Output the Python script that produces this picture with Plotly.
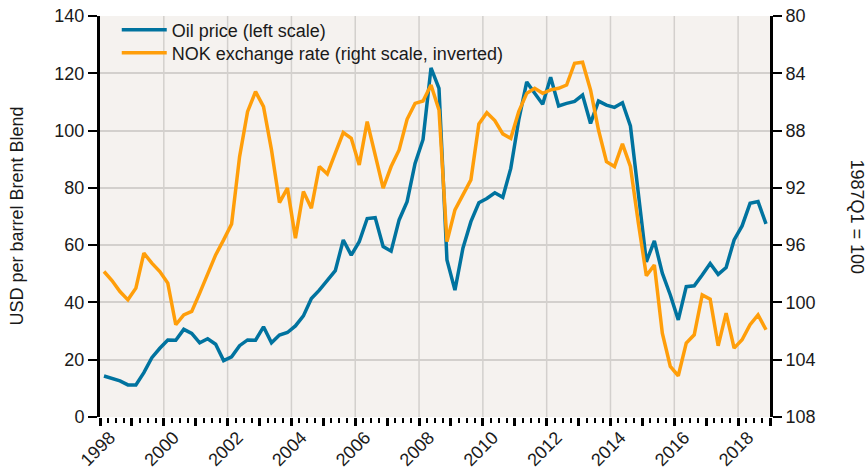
import plotly.graph_objects as go

# Quarterly observations 1998Q1 - 2018Q4
quarters = [f"{y}Q{q}" for y in range(1998, 2019) for q in range(1, 5)]

oil_price = [
    14.3, 13.5, 12.6, 11.2, 11.2, 15.5, 20.7, 24.0,
    26.9, 26.8, 30.6, 29.2, 25.9, 27.3, 25.4, 19.7,
    21.0, 24.9, 26.9, 26.8, 31.5, 25.9, 28.6, 29.5,
    31.8, 35.3, 41.4, 44.3, 47.6, 51.1, 61.8, 56.5,
    61.2, 69.3, 69.6, 59.5, 57.9, 68.8, 75.2, 88.5,
    96.9, 121.9, 114.7, 54.8, 44.3, 58.9, 68.2, 74.8,
    76.3, 78.3, 76.7, 86.8, 103.7, 117.0, 113.0, 109.2,
    118.6, 108.6, 109.5, 110.2, 112.4, 102.5, 110.3, 108.9,
    108.1, 109.7, 101.6, 78.1, 54.2, 61.5, 50.2, 42.6,
    33.9, 45.5, 45.8, 49.6, 53.6, 49.8, 52.2, 61.8,
    66.7, 74.6, 75.2, 67.4,
]

nok_rate = [
    97.84, 98.47, 99.24, 99.82, 99.00, 96.56, 97.26, 97.84,
    98.65, 101.56, 100.87, 100.63, 99.35, 98.00, 96.68, 95.63,
    94.52, 89.82, 86.68, 85.28, 86.33, 89.35, 93.03, 92.02,
    95.51, 92.26, 93.42, 90.51, 91.03, 89.58, 88.14, 88.54,
    90.40, 87.37, 89.70, 92.02, 90.51, 89.35, 87.21, 86.10,
    85.93, 84.82, 86.56, 95.75, 93.54, 92.49, 91.44, 87.54,
    86.75, 87.30, 88.23, 88.54, 86.68, 85.40, 85.05, 85.40,
    85.16, 85.05, 84.82, 83.30, 83.23, 85.16, 87.96, 90.17,
    90.51, 88.93, 90.51, 94.47, 98.14, 97.38, 102.14, 104.47,
    105.12, 102.84, 102.26, 99.47, 99.77, 103.03, 100.75, 103.19,
    102.61, 101.56, 100.87, 101.91,
]

left_ticks = [0, 20, 40, 60, 80, 100, 120, 140]
right_ticks = [80, 84, 88, 92, 96, 100, 104, 108]
year_ticks = list(range(1998, 2020))
label_years = list(range(1998, 2020, 2))

left_title = "USD per barrel Brent Blend"
right_title = "1987Q1 = 100"

# position each quarter at its mid-point on a continuous year axis
xpos = [int(q[:4]) + (int(q[-1]) - 1) * 0.25 + 0.125 for q in quarters]

BLUE = "#00739f"
ORANGE = "#ff9e0a"
FONT = "Liberation Sans, Arial, sans-serif"
FS = 18

W, H = 866, 470
ML, MR, MT, MB = 100, 96, 16, 53
PW = W - ML - MR
PH = H - MT - MB

fig = go.Figure()
fig.add_trace(go.Scatter(
    x=xpos, y=oil_price, mode="lines", name="Oil price (left scale)",
    line=dict(color=BLUE, width=3.5), yaxis="y", legend="legend",
))
fig.add_trace(go.Scatter(
    x=xpos, y=nok_rate, mode="lines",
    name="NOK exchange rate (right scale, inverted)",
    line=dict(color=ORANGE, width=3.5), yaxis="y2", legend="legend2",
))

# vertical grid lines at labelled (even) years
for yr in label_years[1:]:
    fig.add_shape(type="line", xref="x", yref="paper", x0=yr, x1=yr, y0=0, y1=1,
                  line=dict(color="#d3d0cd", width=1.5), layer="below")

fig.add_annotation(text=left_title, textangle=-90, xref="paper", yref="paper",
                   x=(16 - ML) / PW, y=0.5, xanchor="center", yanchor="middle",
                   showarrow=False, font=dict(size=FS, color="#1a1a1a"))
fig.add_annotation(text=right_title, textangle=90, xref="paper", yref="paper",
                   x=(857 - ML) / PW, y=0.5, xanchor="center", yanchor="middle",
                   showarrow=False, font=dict(size=FS, color="#1a1a1a"))

legend_common = dict(xanchor="left", yanchor="middle", bgcolor="rgba(0,0,0,0)",
                     font=dict(size=FS, color="#1a1a1a"), itemwidth=45)

fig.update_layout(
    width=W, height=H,
    margin=dict(l=ML, r=MR, t=MT, b=MB, autoexpand=False),
    paper_bgcolor="white",
    plot_bgcolor="#f5f2ef",
    font=dict(family=FONT, size=FS, color="#1a1a1a"),
    showlegend=True,
    legend=dict(x=0.025, y=1 - (30 - MT) / PH, **legend_common),
    legend2=dict(x=0.025, y=1 - (53 - MT) / PH, **legend_common),
    xaxis=dict(
        range=[1998, 2019], automargin=False,
        tickmode="array", tickvals=year_ticks,
        ticktext=[str(y) if y in label_years else "" for y in year_ticks],
        tickangle=-45, ticks="outside", ticklen=8, tickwidth=3, tickcolor="black",
        ticklabelshift=10, ticklabelstandoff=-6,
        showgrid=False, zeroline=False, showline=False,
        minor=dict(dtick=0.25, tick0=1998, ticks="outside", ticklen=5,
                   tickwidth=2, tickcolor="black", showgrid=False),
        tickfont=dict(size=FS),
    ),
    yaxis=dict(
        range=[0, 140], tickmode="array", tickvals=left_ticks, automargin=False,
        ticks="outside", ticklen=9, tickwidth=2, tickcolor="black",
        showline=True, linecolor="black", linewidth=3,
        showgrid=True, gridcolor="#d3d0cd", gridwidth=1.5, zeroline=False,
        tickfont=dict(size=FS),
    ),
    yaxis2=dict(
        range=[108, 80], overlaying="y", side="right", automargin=False,
        tickmode="array", tickvals=right_ticks,
        ticks="outside", ticklen=9, tickwidth=2, tickcolor="black",
        showline=True, linecolor="black", linewidth=3,
        showgrid=False, zeroline=False,
        tickfont=dict(size=FS),
    ),
)

fig.write_html(
    "out.html",
    config={"displayModeBar": False},
    post_script="document.body.style.margin='0';document.body.style.overflow='hidden';",
)
